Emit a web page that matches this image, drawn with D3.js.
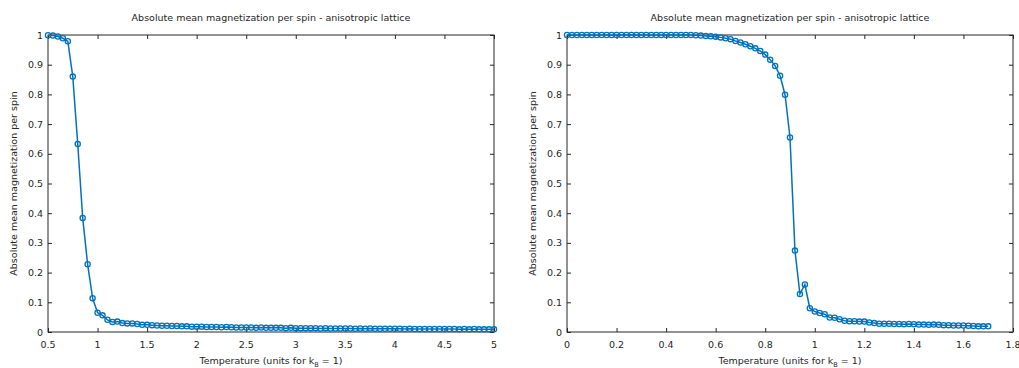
<!DOCTYPE html>
<html>
<head>
<meta charset="utf-8">
<script src="https://cdn.jsdelivr.net/npm/d3@7"></script>
<style>
  body { margin: 0; background: #fff; }
  svg text { font-family: "DejaVu Sans", sans-serif; fill: #262626; }
</style>
</head>
<body>
<svg id="chart" width="1019" height="368"></svg>
<script>
var W = 1019, H = 368;

// left panel: T = 0.5 .. 5 (step 0.05)
var leftTemps = d3.range(0, 91).map(function(i){ return +(0.5 + i * 0.05).toFixed(2); });
var leftMag = [
  0.999, 0.998, 0.995, 0.989, 0.979, 0.860, 0.633, 0.384, 0.228, 0.114,
  0.065, 0.056, 0.041, 0.034, 0.035, 0.030, 0.029, 0.029, 0.027, 0.024,
  0.024,
  0.023, 0.022, 0.021, 0.021, 0.020, 0.020, 0.019, 0.019, 0.018, 0.018,
  0.018, 0.017, 0.017, 0.017, 0.016, 0.017, 0.016, 0.015, 0.015, 0.015,
  0.015, 0.014, 0.015, 0.014, 0.014, 0.014, 0.014, 0.013, 0.014, 0.013,
  0.013, 0.013, 0.013, 0.013, 0.012, 0.013, 0.012, 0.012, 0.012, 0.012,
  0.012, 0.011, 0.012, 0.011, 0.012, 0.011, 0.011, 0.011, 0.011, 0.011,
  0.011, 0.010, 0.011, 0.010, 0.010, 0.010, 0.010, 0.010, 0.010, 0.010,
  0.010, 0.010, 0.009, 0.010, 0.009, 0.010, 0.009, 0.009, 0.009, 0.009
];
var leftTicks = [0.5, 1, 1.5, 2, 2.5, 3, 3.5, 4, 4.5, 5];

// right panel: T = 0 .. 1.7 (step 0.02)
var rightTemps = d3.range(0, 86).map(function(i){ return +(i * 0.02).toFixed(2); });
var rightMag = [
  1.000, 1.000, 1.000, 1.000, 1.000, 1.000, 1.000, 1.000, 1.000, 1.000,
  1.000, 1.000, 1.000, 1.000, 1.000, 1.000, 1.000, 1.000, 1.000, 1.000,
  1.000, 1.000, 1.000, 1.000, 1.000, 1.000,
  0.999, 0.998, 0.997, 0.996, 0.994, 0.992, 0.989, 0.986, 0.980, 0.975,
  0.969, 0.962, 0.955, 0.946, 0.934, 0.917, 0.896, 0.863, 0.799, 0.655,
  0.274, 0.128, 0.160, 0.080, 0.069, 0.064, 0.060, 0.049, 0.048, 0.043,
  0.038, 0.036, 0.036, 0.035, 0.035, 0.032, 0.030, 0.028, 0.028, 0.028,
  0.027, 0.027, 0.026, 0.027, 0.026, 0.025, 0.025, 0.024, 0.025, 0.024,
  0.023, 0.023, 0.022, 0.022, 0.022, 0.021, 0.020, 0.019, 0.019, 0.019
];
var rightTicks = [0, 0.2, 0.4, 0.6, 0.8, 1, 1.2, 1.4, 1.6, 1.8];

var yTicks = [0, 0.1, 0.2, 0.3, 0.4, 0.5, 0.6, 0.7, 0.8, 0.9, 1];

var titleText = "Absolute mean magnetization per spin - anisotropic lattice";
var yLabelText = "Absolute mean magnetization per spin";

var color = "#0072bd";
var fs = 9.5;
var svg = d3.select("#chart");

function drawPanel(x0, x1, temps, mags, domain, ticks) {
  var top = 35, bottom = 332;
  var x = d3.scaleLinear().domain(domain).range([x0, x1]);
  var y = d3.scaleLinear().domain([0, 1]).range([bottom, top]);
  var g = svg.append("g");
  var fmt = function(d){ return String(+d.toFixed(2)); };

  // box ticks (inward on all sides)
  g.append("g").attr("transform", "translate(0," + bottom + ")")
    .call(d3.axisTop(x).tickValues(ticks).tickSize(4).tickFormat(""));
  g.append("g").attr("transform", "translate(0," + top + ")")
    .call(d3.axisBottom(x).tickValues(ticks).tickSize(4).tickFormat(""));
  g.append("g").attr("transform", "translate(" + x0 + ",0)")
    .call(d3.axisRight(y).tickValues(yTicks).tickSize(4).tickFormat(""));
  g.append("g").attr("transform", "translate(" + x1 + ",0)")
    .call(d3.axisLeft(y).tickValues(yTicks).tickSize(4).tickFormat(""));
  g.selectAll(".domain").remove();
  g.selectAll(".tick line").attr("stroke", "#262626");

  g.append("rect")
    .attr("x", x0).attr("y", top)
    .attr("width", x1 - x0).attr("height", bottom - top)
    .attr("fill", "none").attr("stroke", "#262626").attr("stroke-width", 1);

  // tick labels
  g.selectAll(".xl").data(ticks).enter().append("text")
    .attr("x", function(d){ return x(d); })
    .attr("y", bottom + 16)
    .attr("text-anchor", "middle")
    .attr("font-size", fs)
    .text(fmt);
  g.selectAll(".yl").data(yTicks).enter().append("text")
    .attr("x", x0 - 5)
    .attr("y", function(d){ return y(d) + 3.5; })
    .attr("text-anchor", "end")
    .attr("font-size", fs)
    .text(fmt);

  // title and labels
  g.append("text")
    .attr("x", (x0 + x1) / 2).attr("y", 21)
    .attr("text-anchor", "middle").attr("font-size", fs)
    .text(titleText);
  var xl = g.append("text")
    .attr("x", (x0 + x1) / 2).attr("y", 364)
    .attr("text-anchor", "middle").attr("font-size", fs);
  xl.append("tspan").text("Temperature (units for k");
  xl.append("tspan").attr("dy", 3).attr("font-size", 6.5).text("B");
  xl.append("tspan").attr("dy", -3).text(" = 1)");
  g.append("text")
    .attr("transform", "translate(" + (x0 - 31) + "," + ((top + bottom) / 2) + ") rotate(-90)")
    .attr("text-anchor", "middle").attr("font-size", fs)
    .text(yLabelText);

  var pts = temps.map(function(t, i){ return [t, mags[i]]; });
  var line = d3.line().x(function(d){ return x(d[0]); }).y(function(d){ return y(d[1]); });
  g.append("path").datum(pts)
    .attr("d", line)
    .attr("fill", "none").attr("stroke", color).attr("stroke-width", 1.5);
  g.selectAll(".pt").data(pts).enter().append("circle")
    .attr("cx", function(d){ return x(d[0]); })
    .attr("cy", function(d){ return y(d[1]); })
    .attr("r", 2.6)
    .attr("fill", "none").attr("stroke", color).attr("stroke-width", 1.3);
}

drawPanel(48, 494, leftTemps, leftMag, [0.5, 5], leftTicks);
drawPanel(567, 1013, rightTemps, rightMag, [0, 1.8], rightTicks);
</script>
</body>
</html>
